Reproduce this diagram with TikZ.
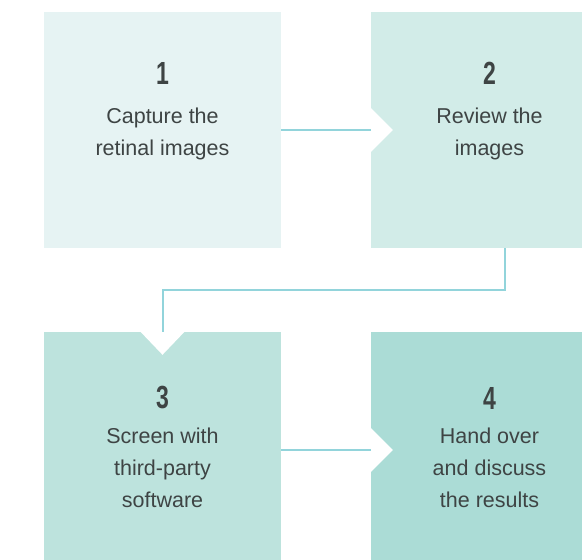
\documentclass[tikz,border=0pt]{standalone}
\usepackage{fontspec}
\setmainfont{Liberation Sans}
\usetikzlibrary{positioning}
\definecolor{boxa}{HTML}{E6F3F3}
\definecolor{boxb}{HTML}{D2ECE8}
\definecolor{boxc}{HTML}{BDE3DD}
\definecolor{boxd}{HTML}{ABDCD6}
\definecolor{linkc}{HTML}{92D4DB}
\definecolor{txt}{HTML}{3E4444}
\tikzset{stepbox/.style={rectangle, inner sep=0pt, minimum width=237pt, minimum height=236pt},
  stepnum/.style={text=txt, font=\fontsize{32}{32}\selectfont\bfseries},
  steptext/.style={text=txt, align=center, font=\fontsize{21.5}{32}\selectfont},
  link/.style={draw=linkc, line width=2pt}}
\newcommand{\narrow}[1]{\scalebox{0.72}[1]{#1}}

\begin{document}
\begin{tikzpicture}[x=1pt, y=-1pt]
  \useasboundingbox (0,0) rectangle (582,560);
  \clip (0,0) rectangle (582,560);

  % the four steps
  \node[stepbox, fill=boxa] (s1) at (162.5,130) {};
  \node[stepbox, fill=boxb] (s2) at (489.5,130) {};
  \node[stepbox, fill=boxc] (s3) at (162.5,450) {};
  \node[stepbox, fill=boxd] (s4) at (489.5,450) {};

  % notches
  \fill[white] ([yshift=22pt]s2.west) -- ([xshift=22pt]s2.west) -- ([yshift=-22pt]s2.west) -- cycle;
  \fill[white] ([yshift=22pt]s4.west) -- ([xshift=22pt]s4.west) -- ([yshift=-22pt]s4.west) -- cycle;
  \fill[white] ([xshift=-22pt]s3.north) -- ([yshift=-23pt]s3.north) -- ([xshift=22pt]s3.north) -- cycle;

  % connectors
  \draw[link] (s1.east) -- (s2.west);
  \draw[link] ([xshift=15.5pt]s2.south) |- (162.5,290) -- (s3.north);
  \draw[link] (s3.east) -- (s4.west);

  % labels
  \node[stepnum] (n1) at (162.5,73) {\narrow{1}};
  \node[steptext] (t1) at (162.5,134) {Capture the\\retinal images};
  \node[stepnum] (n2) at (489.5,73) {\narrow{2}};
  \node[steptext] (t2) at (489.5,134) {Review the\\images};
  \node[stepnum] (n3) at (162.5,398) {\narrow{3}};
  \node[steptext] (t3) at (162.5,468) {Screen with\\third-party\\software};
  \node[stepnum] (n4) at (489.5,398) {\narrow{4}};
  \node[steptext] (t4) at (489.5,468) {Hand over\\and discuss\\the results};
\end{tikzpicture}
\end{document}
